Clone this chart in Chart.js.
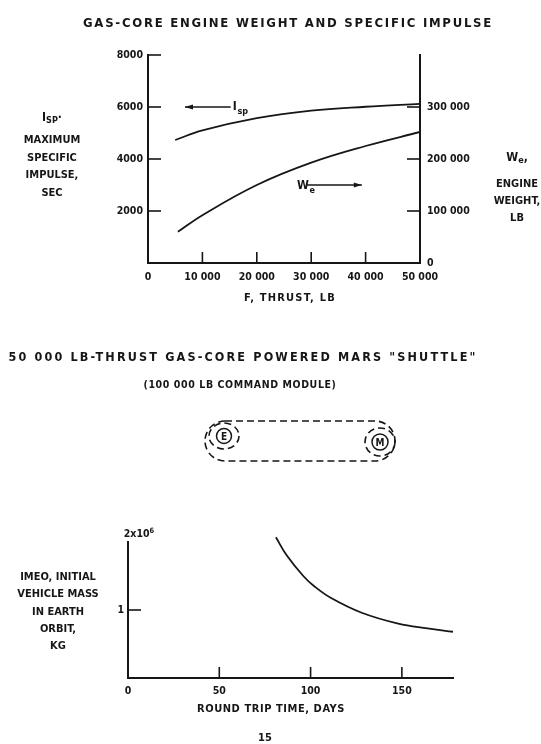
<!DOCTYPE html>
<html>
<head>
<meta charset="utf-8">
<script src="https://cdn.jsdelivr.net/npm/chart.js@4.4.1/dist/chart.umd.min.js"></script>
<style>
  body { margin: 0; background: #fff; }
  #page { position: relative; width: 541px; height: 744px; overflow: hidden; background: #fff;
          font-family: "DejaVu Sans Condensed", "DejaVu Sans", sans-serif; font-weight: bold; color: #161616; }
  canvas { position: absolute; left: 0; }
  .t { position: absolute; white-space: nowrap; transform: translate(-50%, -50%); line-height: 1; }
  .t sub { font-size: 0.75em; vertical-align: -0.25em; }
  .t sup { font-size: 0.7em; vertical-align: 0.55em; }
  svg { position: absolute; left: 0; top: 0; }
</style>
</head>
<body>
<div id="page">
  <canvas id="engineChart" width="541" height="300" style="top:0"></canvas>
  <canvas id="shuttleChart" width="541" height="244" style="top:500px"></canvas>
  <svg width="541" height="744">
    <g fill="none" stroke="#161616" stroke-width="1.6" stroke-dasharray="7 4">
      <rect x="205" y="421" width="190" height="40" rx="20"></rect>
      <ellipse cx="224" cy="436" rx="15" ry="13"></ellipse>
      <ellipse cx="380" cy="442" rx="15" ry="14"></ellipse>
    </g>
    <g fill="none" stroke="#161616" stroke-width="1.5">
      <circle cx="224" cy="436" r="7.5"></circle>
      <circle cx="380" cy="442" r="8"></circle>
    </g>
    <g font-family="DejaVu Sans Condensed, DejaVu Sans, sans-serif" font-weight="bold" font-size="10" fill="#161616" text-anchor="middle">
      <text x="224" y="439.5">E</text>
      <text x="380" y="445.5">M</text>
    </g>
  </svg>
</div>
<script>
// --- data ---
const thrustTicks = [0, 10000, 20000, 30000, 40000, 50000];
const ispTicks = [0, 2000, 4000, 6000, 8000];
const weightTicks = [0, 100000, 200000, 300000];

const ispThrust = [5000, 10000, 20000, 30000, 40000, 50000];
const ispSec = [4730, 5100, 5570, 5860, 6010, 6120];

const weThrust = [5500, 10000, 20000, 30000, 40000, 50000];
const weLb = [60000, 92000, 150000, 193000, 225000, 252000];

const tripTicks = [0, 50, 100, 150];
const massTicks = [0, 1, 2];
const tripDays = [81, 87, 96, 102, 111, 128, 148, 164, 178];
const imeoMkg = [2.07, 1.80, 1.50, 1.35, 1.18, 0.96, 0.80, 0.73, 0.68];

// arrow notes, in data units of the thrust / Isp scales
const ispNote = { from: 15200, to: 6800, y: 6000, tx: 15600, ty: 5880 };
const weNote = { from: 29200, to: 39300, y: 3000, tx: 27400, ty: 2850 };

const ink = '#161616';
const family = '"DejaVu Sans Condensed", "DejaVu Sans", sans-serif';
const tickFont = { family: family, size: 10.5, weight: 'bold' };

function spaced(v) {
    return String(v).replace(/\B(?=(\d{3})+(?!\d))/g, ' ');
}

function useTicks(list) {
    return function(scale) { scale.ticks = list.map(v => ({ value: v })); };
}

// ticks in the scan point into the plot, so draw them ourselves
const inwardTicks = {
    id: 'inwardTicks',
    afterDraw(chart) {
        const ctx = chart.ctx;
        const a = chart.chartArea;
        ctx.save();
        ctx.strokeStyle = ink;
        ctx.lineWidth = 1.6;
        Object.values(chart.scales).forEach(s => {
            s.ticks.forEach(t => {
                if (t.value === s.min) return;
                if (s.axis === 'x' && t.value >= s.max) return;
                if (s.id === 'y2' && t.value >= s.max) return;
                if (chart.canvas.id === 'shuttleChart' && s.axis === 'y' && t.value >= s.max) return;
                const p = s.getPixelForValue(t.value);
                ctx.beginPath();
                if (s.axis === 'x') {
                    ctx.moveTo(p, a.bottom); ctx.lineTo(p, a.bottom - 11);
                } else if (s.position === 'left') {
                    ctx.moveTo(a.left, p); ctx.lineTo(a.left + 13, p);
                } else {
                    ctx.moveTo(a.right, p); ctx.lineTo(a.right - 13, p);
                }
                ctx.stroke();
            });
        });
        ctx.restore();
    }
};

function arrowHead(ctx, x, y, dir) {
    ctx.beginPath();
    ctx.moveTo(x, y);
    ctx.lineTo(x - dir * 8, y - 2.6);
    ctx.lineTo(x - dir * 8, y + 2.6);
    ctx.closePath();
    ctx.fill();
}

function subLabel(ctx, main, sub, x, y) {
    ctx.font = 'bold 12px ' + family;
    ctx.fillText(main, x, y);
    const w = ctx.measureText(main).width;
    ctx.font = 'bold 9px ' + family;
    ctx.fillText(sub, x + w + 0.5, y + 4);
}

const notes = {
    id: 'notes',
    afterDatasetsDraw(chart) {
        const ctx = chart.ctx;
        const x = chart.scales.x, y = chart.scales.y;
        ctx.save();
        ctx.strokeStyle = ink;
        ctx.fillStyle = ink;
        ctx.lineWidth = 1.4;
        [ispNote, weNote].forEach(n => {
            const x0 = x.getPixelForValue(n.from), x1 = x.getPixelForValue(n.to);
            const py = y.getPixelForValue(n.y);
            ctx.beginPath(); ctx.moveTo(x0, py); ctx.lineTo(x1, py); ctx.stroke();
            arrowHead(ctx, x1, py, x1 > x0 ? 1 : -1);
        });
        ctx.textBaseline = 'alphabetic';
        subLabel(ctx, 'I', 'sp', x.getPixelForValue(ispNote.tx), y.getPixelForValue(ispNote.ty));
        subLabel(ctx, 'W', 'e', x.getPixelForValue(weNote.tx), y.getPixelForValue(weNote.ty));
        ctx.restore();
    }
};

const axisBorder = { display: true, color: ink, width: 2 };
const noGrid = { display: false, drawTicks: false, tickLength: 0 };

new Chart(document.getElementById('engineChart'), {
    type: 'line',
    data: {
        datasets: [{
            label: 'Isp',
            data: ispThrust.map((t, i) => ({ x: t, y: ispSec[i] })),
            yAxisID: 'y',
            borderColor: ink,
            borderWidth: 1.8,
            pointRadius: 0,
            tension: 0.4
        }, {
            label: 'We',
            data: weThrust.map((t, i) => ({ x: t, y: weLb[i] })),
            yAxisID: 'y2',
            borderColor: ink,
            borderWidth: 1.8,
            pointRadius: 0,
            tension: 0.4
        }]
    },
    options: {
        responsive: false,
        animation: false,
        layout: { padding: { top: 55, left: 0, right: 0, bottom: 0 } },
        plugins: { legend: { display: false }, tooltip: { enabled: false } },
        scales: {
            x: {
                type: 'linear', min: 0, max: 50000,
                afterBuildTicks: useTicks(thrustTicks),
                afterFit: s => { s.height = 37; },
                grid: noGrid, border: axisBorder,
                ticks: { color: ink, font: tickFont, padding: 8, maxRotation: 0, callback: v => spaced(v) }
            },
            y: {
                position: 'left', min: 0, max: 8000,
                afterBuildTicks: useTicks(ispTicks),
                afterFit: s => { s.width = 148; },
                grid: noGrid, border: axisBorder,
                ticks: { color: ink, font: tickFont, padding: 5, callback: v => v === 0 ? '' : String(v) }
            },
            y2: {
                position: 'right', min: 0, max: 400000,
                afterBuildTicks: useTicks(weightTicks),
                afterFit: s => { s.width = 121; },
                grid: noGrid, border: axisBorder,
                ticks: { color: ink, font: tickFont, padding: 7, callback: v => spaced(v) }
            }
        }
    },
    plugins: [inwardTicks, notes]
});

new Chart(document.getElementById('shuttleChart'), {
    type: 'line',
    data: {
        datasets: [{
            label: 'IMEO',
            data: tripDays.map((d, i) => ({ x: d, y: imeoMkg[i] })),
            borderColor: ink,
            borderWidth: 1.8,
            pointRadius: 0,
            clip: false,
            tension: 0.4
        }]
    },
    options: {
        responsive: false,
        animation: false,
        layout: { padding: { top: 42, left: 0, right: 88, bottom: 0 } },
        plugins: { legend: { display: false }, tooltip: { enabled: false } },
        scales: {
            x: {
                type: 'linear', min: 0, max: 178,
                afterBuildTicks: useTicks(tripTicks),
                afterFit: s => { s.height = 66; },
                grid: noGrid, border: axisBorder,
                ticks: { color: ink, font: tickFont, padding: 7, maxRotation: 0 }
            },
            y: {
                position: 'left', min: 0, max: 2,
                afterBuildTicks: useTicks(massTicks),
                afterFit: s => { s.width = 128; },
                grid: noGrid, border: axisBorder,
                ticks: { color: ink, font: tickFont, padding: 4, callback: v => v === 1 ? '1' : '' }
            }
        }
    },
    plugins: [inwardTicks]
});

// --- text around the charts ---
const page = document.getElementById('page');
function place(html, x, y, size, width) {
    const el = document.createElement('div');
    el.className = 't';
    el.innerHTML = html;
    el.style.left = x + 'px';
    el.style.top = y + 'px';
    el.style.fontSize = size + 'px';
    page.appendChild(el);
    if (width) {
        const cur = el.getBoundingClientRect().width;
        el.style.letterSpacing = ((width - cur) / el.textContent.length) + 'px';
    }
    return el;
}

place('GAS-CORE ENGINE WEIGHT AND SPECIFIC IMPULSE', 288, 22, 13, 410);

place('I<sub>SP</sub>·', 52, 118, 12);
['MAXIMUM', 'SPECIFIC', 'IMPULSE,', 'SEC'].forEach((s, i) => place(s, 52, 139 + i * 17.7, 11));

place('W<sub>e</sub>,', 517, 158, 12);
['ENGINE', 'WEIGHT,', 'LB'].forEach((s, i) => place(s, 517, 183 + i * 17, 11));

place('F, THRUST, LB', 290, 297, 11, 92);

place('50 000 LB-THRUST GAS-CORE POWERED MARS "SHUTTLE"', 243, 357, 12.5, 469);
place('(100 000 LB COMMAND MODULE)', 240, 384, 10.5, 193);

['IMEO, INITIAL', 'VEHICLE MASS', 'IN EARTH', 'ORBIT,', 'KG'].forEach((s, i) => place(s, 58, 576 + i * 17.3, 11));
place('2x10<sup>6</sup>', 139, 533, 10.5);
place('ROUND TRIP TIME, DAYS', 271, 708, 11, 148);
place('15', 265, 737, 11, 14);
</script>
</body>
</html>
